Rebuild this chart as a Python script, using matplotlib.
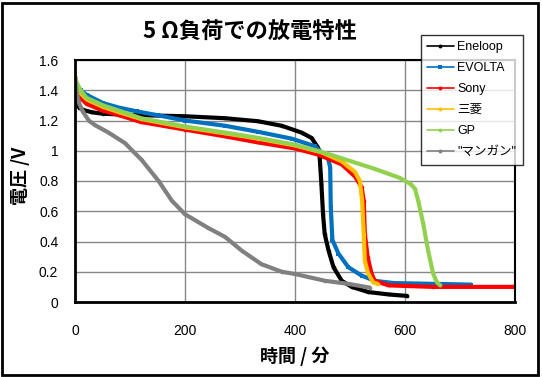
import matplotlib
matplotlib.use("Agg")
import matplotlib.pyplot as plt
from matplotlib.patches import Rectangle

plt.rcParams['font.family'] = ['Liberation Sans', 'Noto Sans CJK JP', 'DejaVu Sans']

# ---- data (time in minutes, voltage in V) ----
eneloop_t = [0, 2, 8, 15, 30, 50, 80, 120, 200, 273, 333, 376, 412, 430, 442, 445, 448, 451, 454, 461, 470, 485, 503, 533, 570, 604]
eneloop_v = [1.34, 1.31, 1.285, 1.27, 1.255, 1.245, 1.24, 1.235, 1.228, 1.215, 1.195, 1.165, 1.12, 1.085, 1.02, 0.95, 0.78, 0.58, 0.45, 0.34, 0.23, 0.14, 0.10, 0.066, 0.05, 0.04]

evolta_t = [0, 3, 10, 21, 51, 80, 113, 150, 200, 273, 333, 394, 436, 460, 464, 465, 468, 479, 497, 521, 545, 580, 650, 720]
evolta_v = [1.47, 1.44, 1.40, 1.37, 1.315, 1.285, 1.26, 1.235, 1.20, 1.165, 1.125, 1.08, 1.03, 0.95, 0.89, 0.63, 0.41, 0.32, 0.23, 0.175, 0.14, 0.125, 0.12, 0.115]

sony_t = [0, 3, 10, 21, 51, 80, 120, 200, 273, 333, 400, 442, 485, 509, 521, 525, 527, 532, 539, 545, 570, 650, 800]
sony_v = [1.43, 1.40, 1.35, 1.31, 1.265, 1.235, 1.19, 1.14, 1.095, 1.055, 1.015, 0.975, 0.91, 0.83, 0.76, 0.67, 0.45, 0.30, 0.19, 0.14, 0.11, 0.10, 0.10]

mitsu_t = [0, 3, 10, 21, 51, 80, 120, 200, 273, 333, 400, 448, 485, 509, 518, 522, 525, 527, 533, 542, 550]
mitsu_v = [1.47, 1.43, 1.38, 1.34, 1.29, 1.255, 1.21, 1.155, 1.115, 1.08, 1.035, 0.99, 0.93, 0.86, 0.80, 0.67, 0.45, 0.27, 0.19, 0.13, 0.12]

gp_t = [0, 3, 10, 21, 51, 80, 120, 200, 273, 333, 400, 455, 545, 591, 610, 618, 624, 633, 642, 651, 658, 664]
gp_v = [1.49, 1.45, 1.40, 1.35, 1.30, 1.265, 1.215, 1.16, 1.12, 1.085, 1.04, 0.985, 0.88, 0.82, 0.78, 0.75, 0.67, 0.52, 0.34, 0.19, 0.13, 0.11]

mn_t = [0, 3, 8, 14, 25, 36, 61, 91, 121, 152, 176, 200, 242, 273, 303, 339, 376, 400, 455, 497, 536]
mn_v = [1.49, 1.38, 1.31, 1.26, 1.20, 1.17, 1.12, 1.05, 0.94, 0.80, 0.67, 0.58, 0.49, 0.43, 0.34, 0.25, 0.20, 0.185, 0.14, 0.12, 0.095]

series = [
    ("Eneloop", eneloop_t, eneloop_v, "#000000", "o"),
    ("EVOLTA", evolta_t, evolta_v, "#0070C0", "s"),
    ("Sony", sony_t, sony_v, "#FF0000", "o"),
    ("三菱", mitsu_t, mitsu_v, "#FFC000", "o"),
    ("GP", gp_t, gp_v, "#92D050", "o"),
    ('"マンガン"', mn_t, mn_v, "#808080", "o"),
]

title = "5 Ω負荷での放電特性"
xlabel = "時間 / 分"
ylabel = "電圧 /V"
xticks = [0, 200, 400, 600, 800]
yticks = [0, 0.2, 0.4, 0.6, 0.8, 1.0, 1.2, 1.4, 1.6]
ytick_labels = ["0", "0.2", "0.4", "0.6", "0.8", "1", "1.2", "1.4", "1.6"]

W, H = 542, 377
fig = plt.figure(figsize=(W / 100, H / 100), dpi=100)
fig.patch.set_facecolor("white")

ax = fig.add_axes([75 / W, 1 - 302 / H, 440 / W, 242 / H])

for name, t, v, c, m in series:
    ax.plot(t, v, color=c, lw=3.0, marker=m, markersize=2.6, markeredgewidth=0,
            label=name, solid_joinstyle="round", solid_capstyle="round")

ax.set_xlim(0, 800)
ax.set_ylim(0, 1.6)
ax.set_xticks(xticks)
ax.set_yticks(yticks)
ax.set_yticklabels(ytick_labels)
ax.tick_params(length=0, labelsize=10, colors="black")
ax.tick_params(axis="x", pad=16)
ax.tick_params(axis="y", pad=12)
ax.grid(True, color="#878787", lw=1)
ax.set_axisbelow(True)
for s in ["left", "bottom"]:
    ax.spines[s].set_linewidth(2)
for s in ["top", "right"]:
    ax.spines[s].set_linewidth(1.5)
for s in ax.spines.values():
    s.set_color("black")

fig.text(250 / W, 1 - 32 / H, title, ha="center", va="center",
         fontsize=16, fontweight="bold", family=["Noto Sans CJK JP"])
fig.text(295 / W, 1 - 356 / H, xlabel, ha="center", va="center",
         fontsize=13, fontweight="bold", family=["Noto Sans CJK JP"])
fig.text(20 / W, 1 - 176 / H, ylabel, ha="center", va="center", rotation=90,
         fontsize=13, fontweight="bold", family=["Noto Sans CJK JP"])

leg = fig.legend(loc="upper left", bbox_to_anchor=(421 / W, 1 - 35 / H),
                 frameon=True, fancybox=False, handlelength=2.1,
                 labelspacing=0.72, borderpad=0.5, handletextpad=0.3,
                 borderaxespad=0, prop={"family": ["Liberation Sans", "Noto Sans CJK JP"], "size": 9})
leg.get_frame().set_edgecolor("black")
leg.get_frame().set_linewidth(1)
for h in leg.legend_handles:
    h.set_linewidth(1.2)
    h.set_markersize(2.8)

fig.patches.append(Rectangle((2 / W, 2 / H), 536 / W, 372 / H, transform=fig.transFigure,
                             fill=False, edgecolor="black", lw=2))

fig.savefig("out.png", dpi=100)
